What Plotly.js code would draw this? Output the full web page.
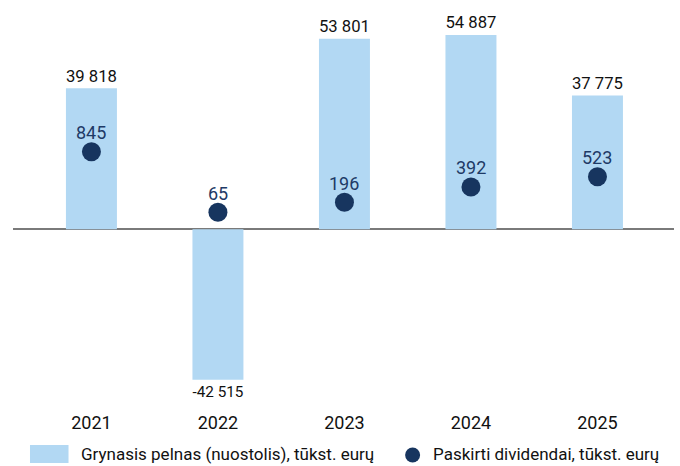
<!DOCTYPE html>
<html>
<head>
<meta charset="utf-8">
<script src="https://cdn.plot.ly/plotly-3.0.1.min.js"></script>
<style>html,body{margin:0;padding:0;background:#fff}#chart{width:680px;height:466px}</style>
</head>
<body>
<div id="chart"></div>
<script>
const years = ['2021', '2022', '2023', '2024', '2025'];
const netProfit = [39818, -42515, 53801, 54887, 37775];
const dividends = [845, 65, 196, 392, 523];
const profitName = 'Grynasis pelnas (nuostolis), tūkst. eurų';
const dividendName = 'Paskirti dividendai, tūkst. eurų';

const FONT = 'Roboto, "Noto Sans", sans-serif';
const BAR_COLOR = '#b2d8f3';
const DOT_COLOR = '#17355f';

const traces = [
  {
    type: 'bar',
    x: years,
    y: netProfit,
    name: profitName,
    marker: {color: BAR_COLOR},
    texttemplate: '%{y:,}',
    textposition: 'outside',
    textfont: {family: FONT, size: 18, color: '#111111'},
    cliponaxis: false,
    yaxis: 'y'
  },
  {
    type: 'scatter',
    mode: 'markers',
    x: years,
    y: dividends,
    name: dividendName,
    marker: {color: DOT_COLOR, size: 19},
    cliponaxis: false,
    yaxis: 'y2'
  }
];

// dividend value labels placed just above each dot (x given as category index)
const annotations = years.map((yr, i) => ({
  x: i, y: dividends[i], xref: 'x', yref: 'y2',
  text: String(dividends[i]), showarrow: false,
  yshift: 19, yanchor: 'middle', xanchor: 'center',
  font: {family: FONT, size: 18, color: '#1e3a66'}
}));

// legend (drawn in paper space to match the reference's wide swatch)
annotations.push(
  {xref: 'paper', yref: 'paper', x: 0.0998, y: -0.11, xanchor: 'left', yanchor: 'middle',
   text: profitName, showarrow: false, font: {family: FONT, size: 17, color: '#111111'}},
  {xref: 'paper', yref: 'paper', x: 0.6331, y: -0.11, xanchor: 'left', yanchor: 'middle',
   text: dividendName, showarrow: false, font: {family: FONT, size: 17, color: '#111111'}}
);
const shapes = [
  {type: 'rect', xref: 'paper', yref: 'paper', x0: 0.0257, x1: 0.084, y0: -0.1325, y1: -0.0875,
   fillcolor: BAR_COLOR, line: {width: 0}},
  {type: 'circle', xref: 'paper', yref: 'paper', x0: 0.5932, x1: 0.6159, y0: -0.13125, y1: -0.09375,
   fillcolor: DOT_COLOR, line: {width: 0}}
];

const layout = {
  width: 680,
  height: 466,
  margin: {l: 13, r: 6, t: 10, b: 56},
  paper_bgcolor: '#ffffff',
  plot_bgcolor: '#ffffff',
  separators: ', ',
  bargap: 0.597,
  showlegend: false,
  hovermode: false,
  font: {family: FONT, size: 18, color: '#111111'},
  xaxis: {
    type: 'category',
    range: [-0.62, 4.605],
    showgrid: false,
    showline: false,
    ticks: '',
    tickfont: {family: FONT, size: 18, color: '#111111'}
  },
  yaxis: {
    range: [-51050, 61950],
    showgrid: false,
    showticklabels: false,
    zeroline: true,
    zerolinecolor: '#7a7a7a',
    zerolinewidth: 2,
    showline: false
  },
  yaxis2: {
    overlaying: 'y',
    side: 'right',
    range: [-2483, 2673],
    showgrid: false,
    showticklabels: false,
    zeroline: false,
    showline: false
  },
  annotations: annotations,
  shapes: shapes
};

Plotly.newPlot('chart', traces, layout, {staticPlot: true, displayModeBar: false});
</script>
</body>
</html>
